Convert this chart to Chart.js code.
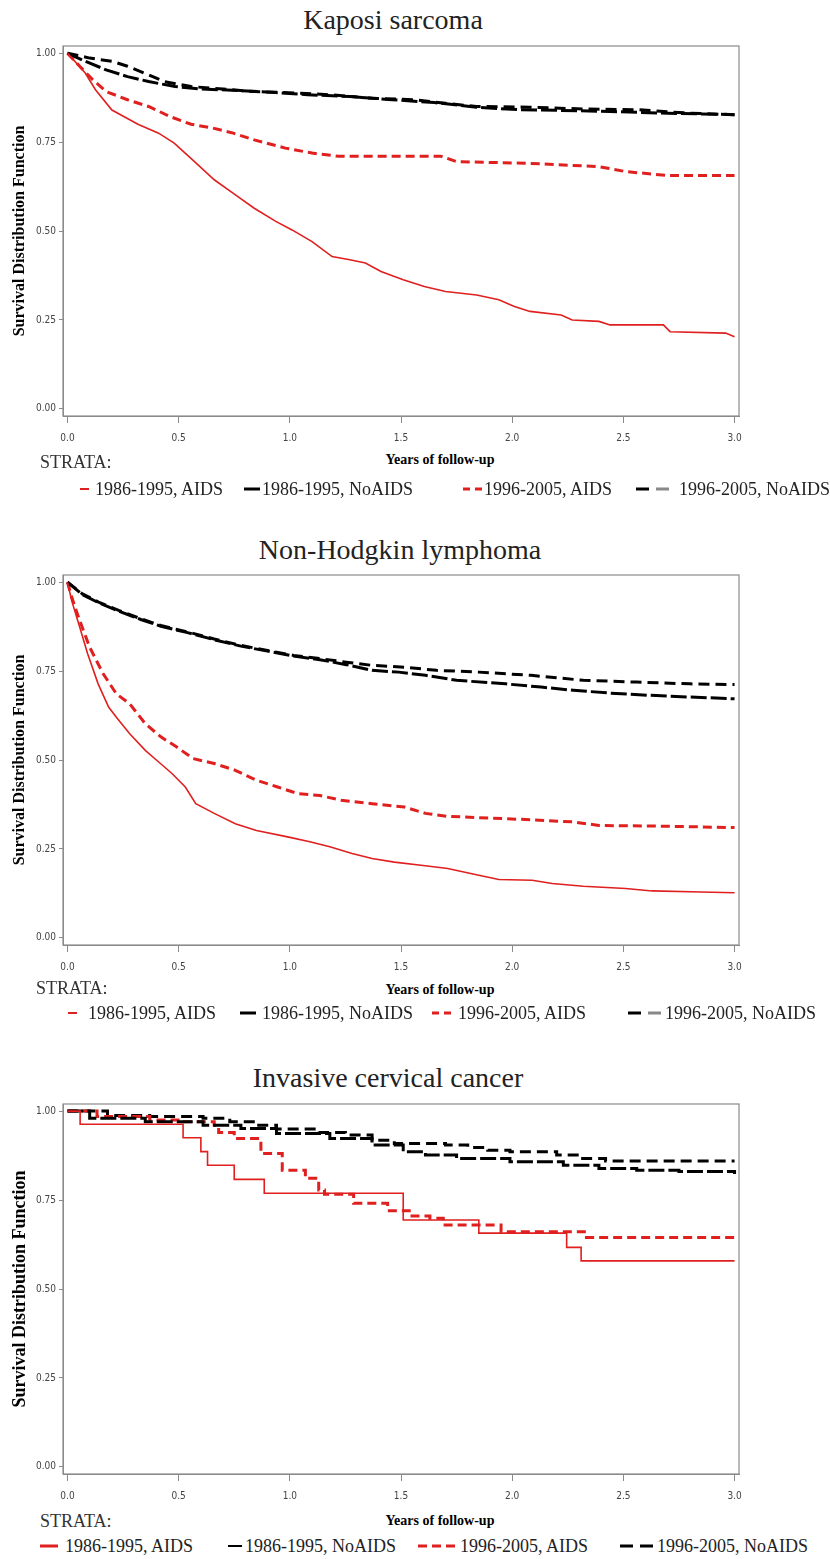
<!DOCTYPE html>
<html>
<head>
<meta charset="utf-8">
<script src="https://cdn.jsdelivr.net/npm/chart.js@4.4.1/dist/chart.umd.min.js"></script>
<style>
  body { margin: 0; background: #fff; }
  #page { position: relative; width: 830px; height: 1559px; overflow: hidden; font-family: 'Liberation Serif', 'DejaVu Serif', serif; }
  canvas { position: absolute; left: 0; }
  .title { position: absolute; transform: translate(-50%, -50%); font-size: 28px; color: #222; white-space: nowrap; }
  .xlab { position: absolute; transform: translate(-50%, -50%); font-size: 14px; font-weight: bold; white-space: nowrap; }
  .strata { position: absolute; font-size: 18px; color: #333; transform: translateY(-50%); }
  .item { position: absolute; font-size: 18px; color: #222; transform: translateY(-50%); white-space: nowrap; }
  .smp { position: absolute; transform: translateY(-50%); }
</style>
</head>
<body>
<div id="page">
  <div class="title" style="left:393px; top:20px;">Kaposi sarcoma</div>
  <canvas id="c1" width="760" height="420" style="top:32px;"></canvas>
  <div class="xlab" style="left:440px; top:460px;">Years of follow-up</div>
  <div class="strata" style="left:40px; top:462px;">STRATA:</div>
  <div id="leg1"></div>

  <div class="title" style="left:400px; top:550px;">Non-Hodgkin lymphoma</div>
  <canvas id="c2" width="760" height="420" style="top:561px;"></canvas>
  <div class="xlab" style="left:440px; top:990px;">Years of follow-up</div>
  <div class="strata" style="left:36px; top:988px;">STRATA:</div>
  <div id="leg2"></div>

  <div class="title" style="left:388px; top:1078px;">Invasive cervical cancer</div>
  <canvas id="c3" width="760" height="420" style="top:1090px;"></canvas>
  <div class="xlab" style="left:440px; top:1521px;">Years of follow-up</div>
  <div class="strata" style="left:40px; top:1521px;">STRATA:</div>
  <div id="leg3"></div>
</div>
<script>
// strata names and axis ticks
var strata = ['1986-1995, AIDS', '1986-1995, NoAIDS', '1996-2005, AIDS', '1996-2005, NoAIDS'];
var xTicks = [0, 0.5, 1, 1.5, 2, 2.5, 3];
var yTicks = [0, 0.25, 0.5, 0.75, 1];

// Kaposi sarcoma
var ksRed86T = [0, 0.08, 0.126, 0.2, 0.317, 0.41, 0.48, 0.58, 0.66, 0.746, 0.84, 0.937, 1.01, 1.10, 1.19, 1.27, 1.34, 1.41, 1.51, 1.605, 1.70, 1.84, 1.94, 2.01, 2.08, 2.22, 2.27, 2.39, 2.44, 2.68, 2.71, 2.96, 3.0];
var ksRed86S = [1, 0.944, 0.897, 0.84, 0.80, 0.775, 0.747, 0.69, 0.644, 0.606, 0.564, 0.527, 0.503, 0.47, 0.428, 0.419, 0.41, 0.386, 0.363, 0.344, 0.33, 0.32, 0.307, 0.288, 0.274, 0.264, 0.25, 0.246, 0.236, 0.236, 0.217, 0.213, 0.203];
var ksBlk86T = [0, 0.08, 0.174, 0.27, 0.365, 0.484, 0.60, 0.77, 0.937, 1.08, 1.27, 1.46, 1.65, 1.84, 2.03, 2.22, 2.44, 2.70, 3.0];
var ksBlk86S = [1, 0.977, 0.953, 0.934, 0.92, 0.906, 0.899, 0.895, 0.889, 0.883, 0.878, 0.869, 0.861, 0.848, 0.841, 0.839, 0.836, 0.831, 0.827];
var ksRed96T = [0, 0.055, 0.114, 0.174, 0.27, 0.365, 0.46, 0.556, 0.65, 0.746, 0.84, 0.98, 1.10, 1.22, 1.68, 1.75, 2.08, 2.39, 2.51, 2.70, 3.0];
var ksRed96S = [1, 0.963, 0.925, 0.892, 0.869, 0.85, 0.822, 0.80, 0.79, 0.775, 0.756, 0.733, 0.719, 0.71, 0.71, 0.695, 0.69, 0.681, 0.667, 0.656, 0.656];
var ksBlk96T = [0, 0.10, 0.2, 0.27, 0.365, 0.436, 0.556, 0.70, 0.84, 1.03, 1.18, 1.37, 1.56, 1.70, 1.84, 2.08, 2.32, 2.56, 2.80, 3.0];
var ksBlk96S = [1, 0.986, 0.977, 0.963, 0.939, 0.92, 0.906, 0.899, 0.892, 0.888, 0.883, 0.873, 0.869, 0.859, 0.85, 0.848, 0.843, 0.841, 0.831, 0.827];

// Non-Hodgkin lymphoma
var nhlRed86T = [0, 0.019, 0.055, 0.09, 0.138, 0.185, 0.22, 0.28, 0.35, 0.40, 0.47, 0.53, 0.577, 0.66, 0.755, 0.85, 0.99, 1.09, 1.18, 1.28, 1.37, 1.47, 1.59, 1.71, 1.85, 1.94, 2.09, 2.18, 2.32, 2.51, 2.63, 2.85, 3.0];
var nhlRed86S = [1, 0.948, 0.874, 0.80, 0.714, 0.649, 0.62, 0.574, 0.527, 0.50, 0.462, 0.424, 0.377, 0.35, 0.321, 0.302, 0.284, 0.27, 0.256, 0.237, 0.223, 0.213, 0.204, 0.195, 0.176, 0.164, 0.162, 0.153, 0.145, 0.139, 0.132, 0.129, 0.127];
var nhlBlk86T = [0, 0.067, 0.14, 0.233, 0.33, 0.42, 0.54, 0.66, 0.78, 0.90, 1.017, 1.135, 1.254, 1.37, 1.49, 1.61, 1.75, 1.97, 2.13, 2.275, 2.44, 2.61, 2.80, 3.0];
var nhlBlk86S = [1, 0.965, 0.942, 0.918, 0.895, 0.876, 0.858, 0.838, 0.82, 0.806, 0.792, 0.782, 0.768, 0.752, 0.747, 0.738, 0.724, 0.714, 0.705, 0.696, 0.688, 0.682, 0.677, 0.672];
var nhlRed96T = [0, 0.019, 0.055, 0.10, 0.16, 0.22, 0.28, 0.35, 0.42, 0.49, 0.565, 0.66, 0.755, 0.85, 0.945, 1.04, 1.135, 1.23, 1.37, 1.515, 1.61, 1.705, 1.85, 2.085, 2.275, 2.39, 2.68, 3.0];
var nhlRed96S = [1, 0.958, 0.892, 0.817, 0.743, 0.686, 0.658, 0.602, 0.565, 0.537, 0.504, 0.49, 0.471, 0.443, 0.424, 0.405, 0.40, 0.387, 0.377, 0.368, 0.35, 0.342, 0.338, 0.332, 0.326, 0.316, 0.314, 0.31];
var nhlBlk96T = [0, 0.067, 0.14, 0.233, 0.33, 0.42, 0.54, 0.66, 0.78, 0.90, 1.017, 1.135, 1.254, 1.37, 1.515, 1.66, 1.85, 2.085, 2.32, 2.56, 2.80, 3.0];
var nhlBlk96S = [1, 0.967, 0.944, 0.92, 0.897, 0.878, 0.86, 0.84, 0.822, 0.808, 0.794, 0.785, 0.775, 0.766, 0.761, 0.752, 0.747, 0.738, 0.724, 0.719, 0.714, 0.712];

// Invasive cervical cancer (step curves)
var iccRed86T = [0, 0.057, 0.52, 0.60, 0.63, 0.75, 0.885, 1.51, 1.85, 2.245, 2.31, 3.0];
var iccRed86S = [1, 0.963, 0.925, 0.886, 0.848, 0.808, 0.769, 0.694, 0.657, 0.617, 0.579, 0.579];
var iccBlk86T = [0, 0.10, 0.35, 0.61, 0.78, 0.94, 1.18, 1.37, 1.51, 1.61, 1.75, 1.99, 2.23, 2.39, 2.56, 2.75, 3.0];
var iccBlk86S = [1, 0.98, 0.97, 0.96, 0.951, 0.937, 0.923, 0.905, 0.886, 0.877, 0.867, 0.858, 0.848, 0.839, 0.834, 0.83, 0.823];
var iccRed96T = [0, 0.133, 0.37, 0.51, 0.66, 0.68, 0.75, 0.87, 0.966, 1.07, 1.13, 1.156, 1.287, 1.44, 1.537, 1.63, 1.69, 1.95, 2.334, 2.99, 3.0];
var iccRed96S = [1, 0.985, 0.975, 0.97, 0.96, 0.94, 0.923, 0.881, 0.834, 0.811, 0.778, 0.766, 0.741, 0.72, 0.705, 0.699, 0.68, 0.661, 0.645, 0.645, 0.638];
var iccBlk96T = [0, 0.18, 0.37, 0.61, 0.73, 0.85, 0.94, 1.13, 1.25, 1.37, 1.47, 1.70, 1.80, 1.89, 1.99, 2.20, 2.30, 2.42, 3.0];
var iccBlk96S = [1, 0.988, 0.985, 0.98, 0.97, 0.96, 0.95, 0.94, 0.933, 0.918, 0.909, 0.905, 0.898, 0.89, 0.886, 0.877, 0.867, 0.86, 0.86];

var red = '#e01f1f';
var lineStyles = [
    { color: red, width: 1.6, dash: [] },
    { color: '#000', width: 3, dash: [16, 4] },
    { color: red, width: 3, dash: [9, 5] },
    { color: '#000', width: 3, dash: [11, 6] }
];

function pts(t, s) {
    return t.map(function (x, i) { return { x: x, y: s[i] }; });
}

var boxPlugin = {
    id: 'box',
    afterDraw: function (chart) {
        var a = chart.chartArea, ctx = chart.ctx;
        ctx.save();
        ctx.strokeStyle = '#8a8a8a';
        ctx.lineWidth = 1.2;
        ctx.strokeRect(a.left, a.top, a.right - a.left, a.bottom - a.top);
        ctx.restore();
    }
};

var tickFont = { family: "'Liberation Sans Narrow', 'DejaVu Sans Condensed', 'Liberation Sans', sans-serif", size: 10 };

function makeChart(id, series, stepped, titleSize) {
    var datasets = series.map(function (d, i) {
        return {
            label: strata[i],
            data: pts(d[0], d[1]),
            borderColor: lineStyles[i].color,
            borderWidth: lineStyles[i].width,
            borderDash: lineStyles[i].dash,
            pointRadius: 0,
            fill: false,
            stepped: stepped,
            tension: 0
        };
    });
    return new Chart(document.getElementById(id).getContext('2d'), {
        type: 'line',
        data: { datasets: datasets },
        options: {
            responsive: false,
            animation: false,
            layout: { padding: { top: 14, right: 21, left: 0, bottom: 0 } },
            plugins: { legend: { display: false }, tooltip: { enabled: false } },
            scales: {
                x: {
                    type: 'linear', min: -0.02, max: 3.02,
                    afterBuildTicks: function (s) { s.ticks = xTicks.map(function (v) { return { value: v }; }); },
                    afterFit: function (s) { s.height = 36; },
                    ticks: { callback: function (v) { return v.toFixed(1); }, font: tickFont, color: '#444', padding: 9, maxRotation: 0, autoSkip: false },
                    grid: { drawOnChartArea: false, tickLength: 7, color: '#8a8a8a' },
                    border: { color: '#8a8a8a' }
                },
                y: {
                    type: 'linear', min: -0.02, max: 1.02,
                    afterBuildTicks: function (s) { s.ticks = yTicks.map(function (v) { return { value: v }; }); },
                    afterFit: function (s) { s.width = 63; },
                    ticks: { callback: function (v) { return v.toFixed(2); }, font: tickFont, color: '#444', padding: 3 },
                    grid: { drawOnChartArea: false, tickLength: 4, color: '#8a8a8a' },
                    border: { color: '#8a8a8a' },
                    title: { display: true, text: 'Survival Distribution Function', color: '#000',
                        font: { family: "'Liberation Serif', serif", weight: 'bold', size: titleSize }, padding: { top: 10, bottom: 0 } }
                }
            }
        },
        plugins: [boxPlugin]
    });
}

makeChart('c1', [[ksRed86T, ksRed86S], [ksBlk86T, ksBlk86S], [ksRed96T, ksRed96S], [ksBlk96T, ksBlk96S]], false, 16);
makeChart('c2', [[nhlRed86T, nhlRed86S], [nhlBlk86T, nhlBlk86S], [nhlRed96T, nhlRed96S], [nhlBlk96T, nhlBlk96S]], false, 16);
makeChart('c3', [[iccRed86T, iccRed86S], [iccBlk86T, iccBlk86S], [iccRed96T, iccRed96S], [iccBlk96T, iccBlk96S]], true, 18);

// legend rows: sample bars and text left edge, per stratum
function sample(parts) {
    return parts.map(function (p) {
        return '<span class="smp" style="left:' + p[0] + 'px;width:' + p[1] + 'px;height:' + p[2] + 'px;background:' + p[3] + ';"></span>';
    }).join('');
}
function legend(id, y, rows) {
    var html = '';
    rows.forEach(function (r, i) {
        html += '<div style="position:absolute;left:0;top:' + y + 'px;">' + sample(r[0]) + '</div>';
        html += '<div class="item" style="left:' + r[1] + 'px;top:' + y + 'px;">' + strata[i] + '</div>';
    });
    document.getElementById(id).innerHTML = html;
}
legend('leg1', 489, [
    [[[80, 9, 2, red]], 95],
    [[[244, 16, 3, '#000']], 262],
    [[[463, 7, 3, red], [475, 7, 3, red]], 484],
    [[[636, 13, 3, '#000'], [656, 13, 3, '#888']], 679]
]);
legend('leg2', 1013, [
    [[[68, 9, 2, red]], 88],
    [[[240, 16, 3, '#000']], 262],
    [[[432, 7, 3, red], [444, 7, 3, red]], 458],
    [[[628, 13, 3, '#000'], [648, 13, 3, '#888']], 665]
]);
legend('leg3', 1546, [
    [[[40, 18, 3, red]], 65],
    [[[228, 14, 2, '#000']], 245],
    [[[418, 9, 3, red], [432, 9, 3, red], [446, 9, 3, red]], 460],
    [[[620, 13, 3, '#000'], [640, 13, 3, '#000']], 657]
]);
</script>
</body>
</html>
